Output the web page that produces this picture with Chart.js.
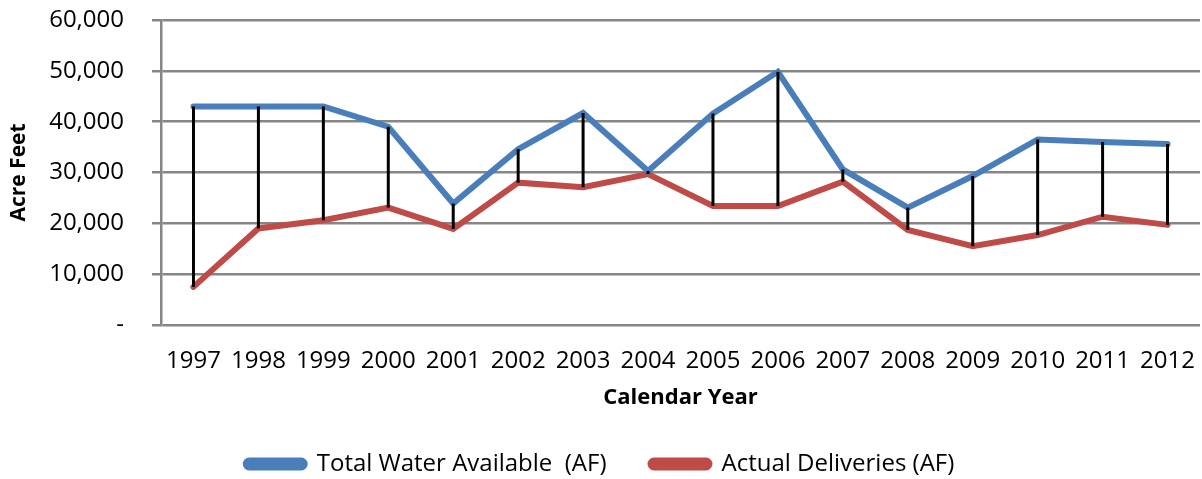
<!DOCTYPE html>
<html>
<head>
<meta charset="utf-8">
<script src="https://cdn.jsdelivr.net/npm/chart.js@4"></script>
<style>
  html, body { margin: 0; padding: 0; background: #fff; }
  #wrap { width: 1202px; height: 479px; }
</style>
</head>
<body>
<div id="wrap"><canvas id="myChart" width="1202" height="479"></canvas></div>
<script>
// data
var years = ["1997","1998","1999","2000","2001","2002","2003","2004","2005","2006","2007","2008","2009","2010","2011","2012"];
var totalWater = [43000, 43000, 43000, 39000, 23900, 34600, 41700, 30300, 41600, 49800, 30600, 23100, 29300, 36500, 36000, 35600];
var deliveries = [7500, 19000, 20600, 23100, 18900, 28000, 27100, 29700, 23400, 23400, 28200, 18700, 15500, 17700, 21300, 19700];
var yTicks = [0, 10000, 20000, 30000, 40000, 50000, 60000];

var FONT = "'Open Sans', sans-serif";
var BOTTOM_PAD = -7;

// black high-low lines between the two series
var hiLoLines = {
    id: 'hiLoLines',
    afterDatasetsDraw: function(chart){
        var ctx = chart.ctx;
        var x = chart.scales.x, y = chart.scales.y;
        ctx.save();
        ctx.strokeStyle = '#000';
        ctx.lineWidth = 3;
        for (var i = 0; i < years.length; i++) {
            var px = x.getPixelForValue(i);
            ctx.beginPath();
            ctx.moveTo(px, y.getPixelForValue(totalWater[i]));
            ctx.lineTo(px, y.getPixelForValue(deliveries[i]));
            ctx.stroke();
        }
        ctx.restore();
    }
};

var ctx = document.getElementById('myChart').getContext('2d');
var chart = new Chart(ctx, {
    type: 'line',
    data: {
        labels: years,
        datasets: [{
            label: "Total Water Available  (AF)",
            data: totalWater,
            borderColor: '#4A7EBB',
            backgroundColor: '#4A7EBB',
            borderWidth: 6,
            borderCapStyle: 'round',
            pointRadius: 0,
            tension: 0
        }, {
            label: "Actual Deliveries (AF)",
            data: deliveries,
            borderColor: '#BE4B48',
            backgroundColor: '#BE4B48',
            borderWidth: 6,
            borderCapStyle: 'round',
            pointRadius: 0,
            tension: 0
        }]
    },
    options: {
        responsive: false,
        animation: false,
        layout: { padding: { top: 20, right: 2, left: 0, bottom: BOTTOM_PAD } },
        plugins: {
            tooltip: { enabled: false },
            legend: {
                position: 'bottom',
                labels: {
                    font: { family: FONT, size: 24 },
                    color: '#000',
                    boxWidth: 59,
                    boxHeight: 7,
                    useBorderRadius: true,
                    borderRadius: 3.5,
                    padding: 44
                }
            }
        },
        scales: {
            x: {
                offset: true,
                grid: { display: false, drawTicks: false },
                border: { display: false },
                ticks: { font: { family: FONT, size: 24 }, color: '#000', padding: 22, maxRotation: 0 },
                title: { display: true, text: 'Calendar Year', font: { family: FONT, size: 22, weight: 'bold' }, color: '#000', padding: { top: 0, bottom: -3 } }
            },
            y: {
                min: 0, max: 60000,
                afterBuildTicks: function(scale){
                    scale.ticks = yTicks.map(function(v){ return { value: v }; });
                },
                afterFit: function(scale){ scale.width = 161; scale.paddingTop = 0; scale.paddingBottom = 0; },
                grid: { color: '#868686', lineWidth: 2.5, tickLength: 9 },
                border: { color: '#868686', width: 2.5 },
                ticks: {
                    font: { family: FONT, size: 24 }, color: '#000', padding: 28,
                    callback: function(v){ return v === 0 ? '-' : v.toLocaleString('en-US'); }
                },
                title: { display: true, text: 'Acre Feet', font: { family: FONT, size: 21, weight: 'bold' }, color: '#000', padding: { top: 6, bottom: 0 } }
            }
        }
    },
    plugins: [hiLoLines, {
        // pin the plot area bottom where the reference has it
        id: 'fitX',
        beforeInit: function(chart){
            chart.options.scales.x.afterFit = function(scale){
                scale.paddingLeft = 0; scale.paddingRight = 0;
                var legend = chart.legend;
                var legendH = legend ? legend.height : 0;
                scale.height = 479 - BOTTOM_PAD - 325 - legendH;
            };
        }
    }]
});
</script>
</body>
</html>
